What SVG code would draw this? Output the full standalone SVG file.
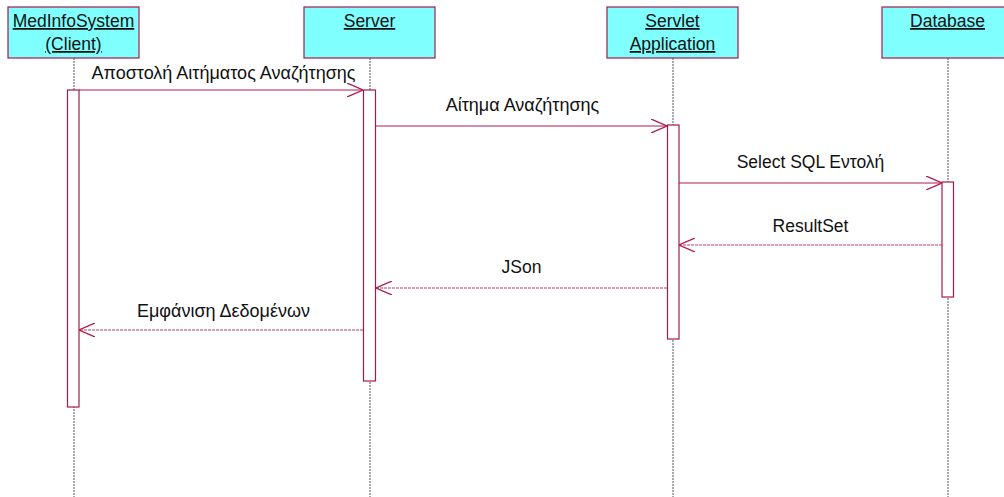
<svg xmlns="http://www.w3.org/2000/svg" width="1004" height="497" viewBox="0 0 1004 497">
  <style>
    .head { fill: #80ffff; stroke: #a8184c; stroke-width: 1.2; }
    .name { font-family: "Liberation Sans", Arial, sans-serif; font-size: 17.5px; fill: #111; text-anchor: middle; text-decoration: underline; }
    .life { stroke: #555; stroke-width: 1; stroke-dasharray: 2 1; fill: none; }
    .act { fill: #fff; stroke: #a8184c; stroke-width: 1.2; }
    .msg { stroke: #b01850; stroke-width: 1; fill: none; }
    .ret { stroke: #c8386a; stroke-width: 1; stroke-dasharray: 3 1; fill: none; }
    .lbl { font-family: "Liberation Sans", Arial, sans-serif; font-size: 17.5px; fill: #111; text-anchor: middle; }
    .gr { font-size: 18px; }
  </style>
  <defs>
    <marker id="open" viewBox="0 0 16 14" refX="16" refY="7" markerWidth="16" markerHeight="14" markerUnits="userSpaceOnUse" orient="auto">
      <path d="M0,0 L16,7 L0,14" fill="none" stroke="#b01850" stroke-width="1.3"/>
    </marker>
  </defs>
  <rect width="1004" height="497" fill="#fff"/>

  <!-- lifelines -->
  <g id="lifelines">
    <line class="life" x1="74" y1="58" x2="74" y2="497"/>
    <line class="life" x1="370" y1="58" x2="370" y2="497"/>
    <line class="life" x1="673" y1="58" x2="673" y2="497"/>
    <line class="life" x1="948" y1="58" x2="948" y2="497"/>
  </g>

  <g id="client">
    <rect class="head" x="8" y="7" width="131" height="51"/>
    <text class="name" x="73.5" y="27">MedInfoSystem </text>
    <text class="name" x="73.5" y="50">(Client)</text>
    <rect class="act" x="67.5" y="90" width="11.5" height="317"/>
  </g>

  <g id="server">
    <rect class="head" x="304" y="7" width="131" height="51"/>
    <text class="name" x="369.5" y="27">Server</text>
    <rect class="act" x="363.5" y="90" width="12" height="291"/>
  </g>

  <g id="servlet">
    <rect class="head" x="607" y="7" width="131" height="51"/>
    <text class="name" x="672.5" y="27">Servlet </text>
    <text class="name" x="672.5" y="50">Application</text>
    <rect class="act" x="667.5" y="125" width="11.5" height="214"/>
  </g>

  <g id="database">
    <rect class="head" x="882" y="7" width="131" height="51"/>
    <text class="name" x="947.5" y="27">Database</text>
    <rect class="act" x="942" y="182" width="11.5" height="115"/>
  </g>

  <!-- messages -->
  <g id="connectors">
    <line class="msg" x1="79" y1="90" x2="363" y2="90" marker-end="url(#open)"/>
    <text class="lbl gr" x="223.5" y="79">Αποστολή Αιτήματος Αναζήτησης</text>

    <line class="msg" x1="376" y1="126" x2="667" y2="126" marker-end="url(#open)"/>
    <text class="lbl gr" x="522.5" y="111">Αίτημα Αναζήτησης</text>

    <line class="msg" x1="679" y1="183" x2="942" y2="183" marker-end="url(#open)"/>
    <text class="lbl" x="810.5" y="168">Select SQL Εντολή</text>

    <line class="ret" x1="942" y1="245" x2="679" y2="245" marker-end="url(#open)"/>
    <text class="lbl" x="810.5" y="232">ResultSet</text>

    <line class="ret" x1="667" y1="288" x2="376" y2="288" marker-end="url(#open)"/>
    <text class="lbl" x="521.5" y="273">JSon</text>

    <line class="ret" x1="363" y1="330" x2="79" y2="330" marker-end="url(#open)"/>
    <text class="lbl gr" x="223.5" y="317">Εμφάνιση Δεδομένων</text>
  </g>
</svg>
